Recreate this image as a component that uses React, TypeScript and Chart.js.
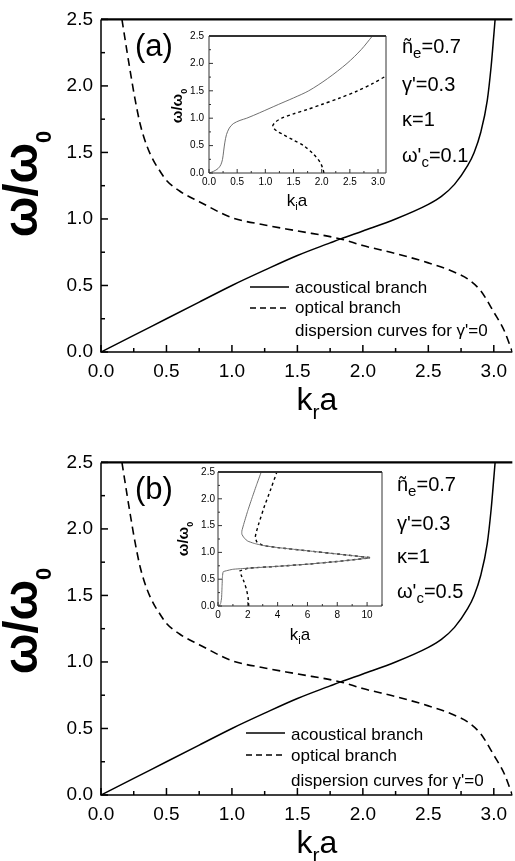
import React, { useEffect, useRef } from 'react';
import { Chart, registerables } from 'chart.js';
Chart.register(...registerables);

const FONT = '"Liberation Sans", Arial, Helvetica, sans-serif';

// ---- main panels: dispersion curves for gamma'=0 (k_r a vs omega/omega0)
const acousticalK = [0, 0.25, 0.5, 0.75, 1.0, 1.25, 1.5, 1.75, 1.83, 2.0, 2.25, 2.5, 2.6, 2.7, 2.8, 2.85, 2.9, 2.95, 2.98, 3.0, 3.01];
const acousticalW = [0, 0.125, 0.25, 0.375, 0.5, 0.615, 0.725, 0.82, 0.85, 0.91, 1.0, 1.11, 1.17, 1.26, 1.4, 1.5, 1.65, 1.89, 2.15, 2.38, 2.5];
const opticalK = [0.16, 0.2, 0.23, 0.26, 0.3, 0.35, 0.4, 0.45, 0.5, 0.6, 0.75, 1.0, 1.25, 1.5, 1.83, 2.0, 2.25, 2.5, 2.7, 2.8, 2.9, 3.0, 3.08, 3.1416];
const opticalW = [2.5, 2.25, 2.07, 1.9, 1.71, 1.55, 1.44, 1.36, 1.29, 1.21, 1.13, 1.01, 0.955, 0.91, 0.85, 0.8, 0.74, 0.67, 0.6, 0.55, 0.46, 0.3, 0.16, 0];

// ---- inset (a): k_i a, omega'_c = 0.1
const insetASolidK = [0, 0.08, 0.16, 0.21, 0.24, 0.26, 0.28, 0.31, 0.36, 0.43, 0.55, 0.67, 0.9, 1.23, 1.5, 1.77, 2.1, 2.45, 2.7, 2.9];
const insetASolidW = [0, 0.03, 0.08, 0.15, 0.25, 0.4, 0.55, 0.7, 0.82, 0.9, 0.96, 1.0, 1.1, 1.25, 1.37, 1.5, 1.72, 2.0, 2.25, 2.5];
const insetADashK = [2.04, 2.02, 1.97, 1.85, 1.68, 1.5, 1.32, 1.2, 1.13, 1.18, 1.29, 1.5, 1.75, 2.0, 2.3, 2.64, 2.9, 3.1416];
const insetADashW = [0, 0.08, 0.2, 0.35, 0.5, 0.6, 0.7, 0.77, 0.85, 0.93, 1.0, 1.08, 1.16, 1.25, 1.36, 1.5, 1.63, 1.77];

// ---- inset (b): k_i a, omega'_c = 0.5
const insetBSolidK = [0.08, 0.18, 0.24, 0.27, 0.3, 0.35, 1.0, 2.0, 4.0, 6.0, 8.0, 9.0, 10.2, 9.0, 8.0, 7.0, 6.0, 5.0, 4.0, 3.0, 2.4, 2.0, 1.75, 1.6, 1.6, 1.75, 2.0, 2.3, 2.6, 2.9];
const insetBSolidW = [0, 0.05, 0.15, 0.35, 0.55, 0.64, 0.685, 0.705, 0.74, 0.78, 0.83, 0.86, 0.9, 0.94, 0.97, 1.0, 1.03, 1.06, 1.09, 1.13, 1.17, 1.21, 1.27, 1.34, 1.4, 1.55, 1.78, 2.03, 2.27, 2.5];
const insetBDashK = [2.06, 2.02, 1.92, 1.75, 1.55, 1.45, 2.0, 4.0, 6.0, 8.0, 9.0, 10.2, 9.0, 8.0, 6.0, 4.0, 3.0, 2.6, 2.5, 2.55, 2.75, 3.1, 3.5, 3.95];
const insetBDashW = [0, 0.15, 0.3, 0.45, 0.58, 0.65, 0.705, 0.74, 0.78, 0.83, 0.86, 0.9, 0.94, 0.97, 1.03, 1.09, 1.13, 1.2, 1.28, 1.36, 1.55, 1.85, 2.15, 2.5];

const legendLabels = ['acoustical branch', 'optical branch', "dispersion curves for γ'=0"];

const zip = (xs: number[], ys: number[]) => xs.map((x, i) => ({ x, y: ys[i] }));

type Run = [string, number, number];

function drawRuns(ctx: CanvasRenderingContext2D, runs: Run[], x: number, y: number, align: 'left' | 'center', weight = 'normal') {
  ctx.save();
  ctx.fillStyle = '#000';
  ctx.textBaseline = 'alphabetic';
  ctx.textAlign = 'left';
  const widths = runs.map(([t, s]) => {
    ctx.font = `${weight} ${s}px ${FONT}`;
    return ctx.measureText(t).width;
  });
  const total = widths.reduce((a, b) => a + b, 0);
  let cx = align === 'center' ? x - total / 2 : x;
  runs.forEach(([t, s, dy], i) => {
    ctx.font = `${weight} ${s}px ${FONT}`;
    ctx.fillText(t, cx, y + dy);
    cx += widths[i];
  });
  ctx.restore();
}

function drawRotated(ctx: CanvasRenderingContext2D, runs: Run[], cx: number, cy: number, base: number, weight = 'bold') {
  ctx.save();
  ctx.translate(cx, cy);
  ctx.rotate(-Math.PI / 2);
  drawRuns(ctx, runs, 0, base, 'center', weight);
  ctx.restore();
}

interface FrameCfg {
  fill: boolean;
  color: string;
  lw: number;
  topLw: number;
  right: boolean;
  xMajor: number;
  xMinor: number;
  yMajor: number;
  yMinor: number;
  majLen: number;
  minLen: number;
  offsetLeft: number;
  offsetTop: number;
  decorate?: (ctx: CanvasRenderingContext2D) => void;
}

function framePlugin(cfg: FrameCfg) {
  return {
    id: 'frameTicks',
    beforeDatasetsDraw(chart: any) {
      if (!cfg.fill) return;
      const { ctx, chartArea: a } = chart;
      ctx.save();
      ctx.fillStyle = '#fff';
      ctx.fillRect(a.left, a.top, a.right - a.left, a.bottom - a.top);
      ctx.restore();
    },
    afterDatasetsDraw(chart: any) {
      const { ctx, chartArea: a, scales } = chart;
      const xs = scales.x;
      const ys = scales.y;
      ctx.save();
      ctx.strokeStyle = cfg.color;
      ctx.lineWidth = cfg.lw;
      const isMajor = (v: number, m: number) => Math.abs(v / m - Math.round(v / m)) < 1e-6;
      for (let i = 0; ; i++) {
        const v = xs.min + i * cfg.xMinor;
        if (v > xs.max + 1e-9) break;
        const px = xs.getPixelForValue(v);
        const len = isMajor(v, cfg.xMajor) ? cfg.majLen : cfg.minLen;
        ctx.beginPath();
        ctx.moveTo(px, a.bottom);
        ctx.lineTo(px, a.bottom - len);
        ctx.stroke();
      }
      for (let i = 0; ; i++) {
        const v = ys.min + i * cfg.yMinor;
        if (v > ys.max + 1e-9) break;
        const py = ys.getPixelForValue(v);
        const len = isMajor(v, cfg.yMajor) ? cfg.majLen : cfg.minLen;
        ctx.beginPath();
        ctx.moveTo(a.left, py);
        ctx.lineTo(a.left + len, py);
        ctx.stroke();
      }
      ctx.beginPath();
      ctx.moveTo(a.left, a.top);
      ctx.lineTo(a.left, a.bottom);
      ctx.lineTo(a.right, a.bottom);
      if (cfg.right) ctx.lineTo(a.right, a.top);
      ctx.stroke();
      ctx.lineWidth = cfg.topLw;
      ctx.beginPath();
      ctx.moveTo(a.left, a.top);
      ctx.lineTo(a.right, a.top);
      ctx.stroke();
      ctx.restore();
    },
    afterDraw(chart: any) {
      if (!cfg.decorate) return;
      const ctx = chart.ctx;
      ctx.save();
      ctx.translate(-cfg.offsetLeft, -cfg.offsetTop);
      cfg.decorate(ctx);
      ctx.restore();
    },
  };
}

interface PanelDeco {
  top: number;
  label: string;
  labelPos: [number, number];
  paramX: number;
  paramYs: number[];
  wc: string;
  legX0: number;
  legX1: number;
  legTx: number;
  legYs: number[];
  legLineYs: number[];
  yTitle: [number, number];
  xTitle: [number, number];
}

const panelA: PanelDeco = {
  top: 0, label: '(a)', labelPos: [135, 56], paramX: 402, paramYs: [53, 91, 126, 162], wc: '0.1',
  legX0: 250, legX1: 289, legTx: 295, legYs: [293, 313, 336], legLineYs: [287, 308],
  yTitle: [24, 184], xTitle: [317, 410],
};
const panelB: PanelDeco = {
  top: 443, label: '(b)', labelPos: [135, 499], paramX: 397, paramYs: [491, 530, 563, 598], wc: '0.5',
  legX0: 246, legX1: 285, legTx: 291, legYs: [740, 761, 786], legLineYs: [733, 755],
  yTitle: [24, 621], xTitle: [317, 853],
};

function decoratePanel(d: PanelDeco) {
  return (ctx: CanvasRenderingContext2D) => {
    drawRotated(ctx, [['ω/ω', 48, 0], ['0', 22, 14]], d.yTitle[0], d.yTitle[1], 13, 'bold');
    drawRuns(ctx, [['k', 32, 0], ['r', 21, 9], ['a', 32, 0]], d.xTitle[0], d.xTitle[1], 'center');
    drawRuns(ctx, [[d.label, 31, 0]], d.labelPos[0], d.labelPos[1], 'left');
    const px = d.paramX;
    drawRuns(ctx, [['ñ', 20, 0], ['e', 15, 5], ['=0.7', 20, 0]], px, d.paramYs[0], 'left');
    drawRuns(ctx, [["γ'=0.3", 20, 0]], px, d.paramYs[1], 'left');
    drawRuns(ctx, [['κ=1', 20, 0]], px, d.paramYs[2], 'left');
    drawRuns(ctx, [["ω'", 20, 0], ['c', 15, 5], ['=' + d.wc, 20, 0]], px, d.paramYs[3], 'left');
    ctx.save();
    ctx.strokeStyle = '#000';
    ctx.lineWidth = 1.5;
    ctx.beginPath();
    ctx.moveTo(d.legX0, d.legLineYs[0]);
    ctx.lineTo(d.legX1, d.legLineYs[0]);
    ctx.stroke();
    ctx.setLineDash([6, 4]);
    ctx.beginPath();
    ctx.moveTo(d.legX0, d.legLineYs[1]);
    ctx.lineTo(d.legX1, d.legLineYs[1]);
    ctx.stroke();
    ctx.restore();
    legendLabels.forEach((t, i) => drawRuns(ctx, [[t, 17, 0]], d.legTx, d.legYs[i], 'left'));
  };
}

function mainConfig(d: PanelDeco, height: number): any {
  return {
    type: 'scatter',
    data: {
      datasets: [
        { data: zip(acousticalK, acousticalW), showLine: true, borderColor: '#000', borderWidth: 1.5, pointRadius: 0, cubicInterpolationMode: 'monotone', fill: false },
        { data: zip(opticalK, opticalW), showLine: true, borderColor: '#000', borderWidth: 1.6, borderDash: [8, 5], pointRadius: 0, cubicInterpolationMode: 'monotone', fill: false },
      ],
    },
    options: {
      responsive: false,
      animation: false,
      devicePixelRatio: 1,
      layout: { padding: { top: 18, left: 0, right: 0, bottom: 0 } },
      plugins: { legend: { display: false }, tooltip: { enabled: false } },
      scales: {
        x: {
          type: 'linear', min: 0, max: Math.PI,
          afterFit: (s: any) => { s.height = height - 352; },
          grid: { display: false, drawTicks: false }, border: { display: false },
          ticks: { stepSize: 0.5, includeBounds: false, padding: 8, autoSkip: false, maxRotation: 0, color: '#000', font: { family: FONT, size: 19 }, callback: (v: any) => Number(v).toFixed(1) },
        },
        y: {
          type: 'linear', min: 0, max: 2.5,
          afterFit: (s: any) => { s.width = 101; },
          grid: { display: false, drawTicks: false }, border: { display: false },
          ticks: { stepSize: 0.5, includeBounds: false, padding: 8, autoSkip: false, color: '#000', font: { family: FONT, size: 19 }, callback: (v: any) => Number(v).toFixed(1) },
        },
      },
    },
    plugins: [framePlugin({
      fill: false, color: '#000', lw: 1.5, topLw: 2.2, right: false,
      xMajor: 0.5, xMinor: 0.25, yMajor: 0.5, yMinor: 0.25, majLen: 7, minLen: 4,
      offsetLeft: 0, offsetTop: d.top, decorate: decoratePanel(d),
    })],
  };
}

interface InsetDeco {
  left: number;
  top: number;
  padTop: number;
  padRight: number;
  yWidth: number;
  xHeight: number;
  xMax: number;
  xStep: number;
  xMinor: number;
  decimals: number;
  yTickPad: number;
  solid: { x: number; y: number }[];
  dash: { x: number; y: number }[];
  yTitle: [number, number];
  xTitle: [number, number];
}

const insetA: InsetDeco = {
  left: 150, top: 25, padTop: 6, padRight: 4, yWidth: 59, xHeight: 42, xMax: Math.PI, xStep: 0.5, xMinor: 0.25, decimals: 1, yTickPad: 5,
  solid: zip(insetASolidK, insetASolidW), dash: zip(insetADashK, insetADashW),
  yTitle: [178, 106], xTitle: [297, 206],
};
const insetB: InsetDeco = {
  left: 150, top: 460, padTop: 12, padRight: 8, yWidth: 68, xHeight: 44, xMax: 11, xStep: 2, xMinor: 1, decimals: 0, yTickPad: 3,
  solid: zip(insetBSolidK, insetBSolidW), dash: zip(insetBDashK, insetBDashW),
  yTitle: [184, 539], xTitle: [300, 640],
};

function insetConfig(d: InsetDeco, tension: number): any {
  return {
    type: 'scatter',
    data: {
      datasets: [
        { data: d.solid, showLine: true, borderColor: '#707070', borderWidth: 1, pointRadius: 0, tension, fill: false },
        { data: d.dash, showLine: true, borderColor: '#000', borderWidth: 1.4, borderDash: [3, 3], pointRadius: 0, tension, fill: false },
      ],
    },
    options: {
      responsive: false,
      animation: false,
      devicePixelRatio: 1,
      layout: { padding: { top: d.padTop, left: 0, right: d.padRight, bottom: 0 } },
      plugins: { legend: { display: false }, tooltip: { enabled: false } },
      scales: {
        x: {
          type: 'linear', min: 0, max: d.xMax,
          afterFit: (s: any) => { s.height = d.xHeight; },
          grid: { display: false, drawTicks: false }, border: { display: false },
          ticks: { stepSize: d.xStep, includeBounds: false, padding: 3, autoSkip: false, maxRotation: 0, color: '#000', font: { family: FONT, size: 10 }, callback: (v: any) => Number(v).toFixed(d.decimals) },
        },
        y: {
          type: 'linear', min: 0, max: 2.5,
          afterFit: (s: any) => { s.width = d.yWidth; },
          grid: { display: false, drawTicks: false }, border: { display: false },
          ticks: { stepSize: 0.5, includeBounds: false, padding: d.yTickPad, autoSkip: false, color: '#000', font: { family: FONT, size: 10 }, callback: (v: any) => Number(v).toFixed(1) },
        },
      },
    },
    plugins: [framePlugin({
      fill: true, color: '#333', lw: 1, topLw: 1.8, right: true,
      xMajor: d.xStep, xMinor: d.xMinor, yMajor: 0.5, yMinor: 0.25, majLen: 4, minLen: 2,
      offsetLeft: d.left, offsetTop: d.top,
      decorate: (ctx) => {
        drawRotated(ctx, [['ω/ω', 15, 0], ['0', 9, 5]], d.yTitle[0], d.yTitle[1], 4, 'bold');
        drawRuns(ctx, [['k', 17, 0], ['i', 11, 4], ['a', 17, 0]], d.xTitle[0], d.xTitle[1], 'center');
      },
    })],
  };
}

function ChartCanvas(props: { left: number; top: number; width: number; height: number; config: () => any }) {
  const ref = useRef<HTMLCanvasElement | null>(null);
  useEffect(() => {
    if (!ref.current) return;
    const chart = new Chart(ref.current, props.config());
    return () => chart.destroy();
  }, []);
  return (
    <canvas
      ref={ref}
      width={props.width}
      height={props.height}
      style={{ position: 'absolute', left: props.left, top: props.top, width: props.width, height: props.height }}
    />
  );
}

export default function App() {
  return (
    <div style={{ position: 'absolute', left: 0, top: 0, width: 515, height: 861, overflow: 'hidden', background: '#fff' }}>
      <ChartCanvas left={0} top={0} width={515} height={430} config={() => mainConfig(panelA, 430)} />
      <ChartCanvas left={0} top={443} width={515} height={418} config={() => mainConfig(panelB, 418)} />
      <ChartCanvas left={insetA.left} top={insetA.top} width={240} height={190} config={() => insetConfig(insetA, 0.3)} />
      <ChartCanvas left={insetB.left} top={insetB.top} width={240} height={190} config={() => insetConfig(insetB, 0.1)} />
    </div>
  );
}
